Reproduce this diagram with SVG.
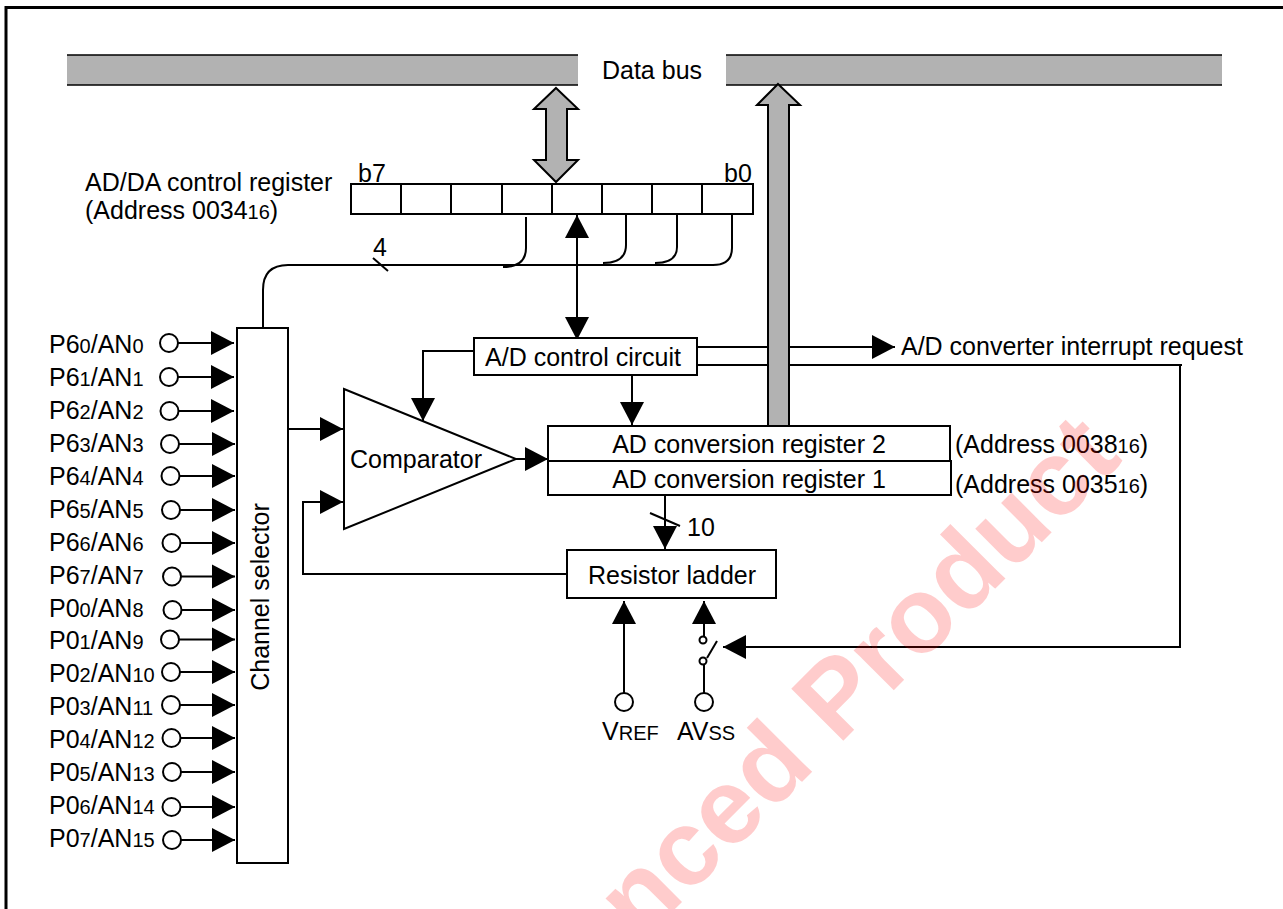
<svg xmlns="http://www.w3.org/2000/svg" width="1283" height="909" viewBox="0 0 1283 909">
<style>
text{font-family:"Liberation Sans",Arial,sans-serif;font-size:25px;fill:#000}
.s{font-size:20px}
.m{text-anchor:middle}
.b{fill:#fff;stroke:#000;stroke-width:2}
.l{fill:none;stroke:#000;stroke-width:2}
.a{fill:none;stroke:#000;stroke-width:2;marker-end:url(#h)}
.c{fill:#fff;stroke:#000;stroke-width:2}
.g{fill:#b2b2b2;stroke:#000;stroke-width:2}
.wm{font-family:"Liberation Sans",Arial,sans-serif;font-weight:bold;font-size:107px;fill:#f00;fill-opacity:.2;text-anchor:end}
</style>
<defs>
<marker id="h" markerUnits="userSpaceOnUse" markerWidth="24" markerHeight="24" refX="23" refY="12" orient="auto-start-reverse" overflow="visible"><path d="M0 0L23 12L0 24Z" fill="#000"/></marker>
</defs>
<rect width="1283" height="909" fill="#fff"/>
<g id="frame"><path d="M1283 7.5H6V909" fill="none" stroke="#000" stroke-width="3"/></g>
<g id="data-bus">
<rect x="67" y="55" width="1155" height="30" fill="#b2b2b2"/>
<path d="M67 55H1222M67 85H1222" fill="none" stroke="#000" stroke-width="1.500"/>
<rect x="578" y="54" width="148" height="32" fill="#fff"/>
<text x="652" y="79" class="m">Data bus</text>
</g>
<g id="connectors">
<path class="l" d="M263 328V290Q263 265 288 265H713Q732 265 732 248V214"/>
<path class="l" d="M526 217V248Q526 267 503 267"/>
<path class="l" d="M626 214V245Q626 263 603 263"/>
<path class="l" d="M677 214V247Q677 263 655 263"/>
<path class="l" d="M373 258L388 271"/>
<path class="a" style="marker-start:url(#h)" d="M577 215V340"/>
<path class="a" d="M474 351H423V421"/>
<path class="a" d="M632 375V425"/>
<path class="a" d="M516 459H548"/>
<path class="a" d="M287 429H343"/>
<path class="a" d="M567 574H303V502H343"/>
<path class="a" d="M665 495V549"/>
<path class="l" d="M650 513L680 526"/>
<path class="a" d="M697 347H895"/>
<path class="l" d="M697 365H1182"/>
<path class="a" d="M1180 365V647H723"/>
<path class="a" d="M624 693V601"/>
<path class="a" d="M704 636V601"/>
<path class="l" d="M704 665V693"/>
<path class="l" d="M707 658L717 641"/>
<path class="a" d="M178 343H234"/><path class="a" d="M178 377H234"/><path class="a" d="M178.500 411H234"/><path class="a" d="M179 444H235"/>
<path class="a" d="M179.500 476H235"/><path class="a" d="M180 510H235"/><path class="a" d="M180.500 543H235"/><path class="a" d="M181 576.500H235"/>
<path class="a" d="M181.500 610H235"/><path class="a" d="M179 639.500H235"/><path class="a" d="M180 672H235"/><path class="a" d="M180 705H235"/>
<path class="a" d="M180.500 738H235"/><path class="a" d="M181 772H235"/><path class="a" d="M180.500 807H235"/><path class="a" d="M181 840H235"/>
</g>
<g id="bus-arrows">
<path class="g" d="M556 88L578 109H567V160H578L556 182L534 160H546V109H534Z"/>
<path class="g" d="M778 84L800 105H789V426H768V105H757Z"/>
</g>
<g id="register-label">
<text x="85" y="191">AD/DA control register</text>
<text x="85" y="219">(Address 0034<tspan class="s">16</tspan>)</text>
</g>
<g id="control-register">
<rect class="b" x="351" y="184" width="402" height="30"/>
<path class="l" d="M401 184V214M451 184V214M502 184V214M552 184V214M602 184V214M652 184V214M702 184V214"/>
<text x="358" y="182">b7</text>
<text x="724" y="182">b0</text>
</g>
<text x="373" y="256">4</text>
<g id="adc-control"><rect class="b" x="474" y="338" width="223" height="37"/><text x="583" y="366" class="m">A/D control circuit</text></g>
<g id="comparator"><path class="b" d="M344 389L516 459L344 529Z"/><text x="350" y="468">Comparator</text></g>
<g id="conversion-registers">
<rect class="b" x="548" y="426" width="402" height="35"/>
<rect class="b" x="548" y="461" width="403" height="34"/>
<text x="749" y="453" class="m">AD conversion register 2</text>
<text x="749" y="488" class="m">AD conversion register 1</text>
<text x="955" y="453">(Address 0038<tspan class="s">16</tspan>)</text>
<text x="955" y="493">(Address 0035<tspan class="s">16</tspan>)</text>
</g>
<text x="687" y="536">10</text>
<g id="resistor-ladder"><rect class="b" x="567" y="550" width="209" height="48"/><text x="672" y="584" class="m">Resistor ladder</text></g>
<g id="vref"><circle class="c" cx="624" cy="702" r="9"/><text x="602" y="740">V<tspan class="s">REF</tspan></text></g>
<g id="avss">
<circle class="c" cx="704" cy="702" r="9"/>
<circle class="c" cx="703" cy="640" r="3.500"/>
<circle class="c" cx="703" cy="661" r="3.500"/>
<text x="677" y="740">AV<tspan class="s">SS</tspan></text>
</g>
<text x="901" y="355">A/D converter interrupt request</text>
<g id="channel-selector"><rect class="b" x="237" y="328" width="51" height="535"/><text transform="translate(269 597) rotate(-90)" class="m">Channel selector</text></g>
<g id="inputs">
<g id="an0"><circle class="c" cx="169" cy="343" r="9"/><text x="49" y="353">P6<tspan class="s">0</tspan>/AN<tspan class="s">0</tspan></text></g>
<g id="an1"><circle class="c" cx="169" cy="377" r="9"/><text x="49" y="386">P6<tspan class="s">1</tspan>/AN<tspan class="s">1</tspan></text></g>
<g id="an2"><circle class="c" cx="169.500" cy="411" r="9"/><text x="49" y="419">P6<tspan class="s">2</tspan>/AN<tspan class="s">2</tspan></text></g>
<g id="an3"><circle class="c" cx="170" cy="444" r="9"/><text x="49" y="452">P6<tspan class="s">3</tspan>/AN<tspan class="s">3</tspan></text></g>
<g id="an4"><circle class="c" cx="170.500" cy="476" r="9"/><text x="49" y="485">P6<tspan class="s">4</tspan>/AN<tspan class="s">4</tspan></text></g>
<g id="an5"><circle class="c" cx="171" cy="510" r="9"/><text x="49" y="518">P6<tspan class="s">5</tspan>/AN<tspan class="s">5</tspan></text></g>
<g id="an6"><circle class="c" cx="171.500" cy="543" r="9"/><text x="49" y="551">P6<tspan class="s">6</tspan>/AN<tspan class="s">6</tspan></text></g>
<g id="an7"><circle class="c" cx="172" cy="576.500" r="9"/><text x="49" y="584">P6<tspan class="s">7</tspan>/AN<tspan class="s">7</tspan></text></g>
<g id="an8"><circle class="c" cx="172.500" cy="610" r="9"/><text x="49" y="617">P0<tspan class="s">0</tspan>/AN<tspan class="s">8</tspan></text></g>
<g id="an9"><circle class="c" cx="170" cy="639.500" r="9"/><text x="49" y="649">P0<tspan class="s">1</tspan>/AN<tspan class="s">9</tspan></text></g>
<g id="an10"><circle class="c" cx="171" cy="672" r="9"/><text x="49" y="682">P0<tspan class="s">2</tspan>/AN<tspan class="s">10</tspan></text></g>
<g id="an11"><circle class="c" cx="171" cy="705" r="9"/><text x="49" y="715">P0<tspan class="s">3</tspan>/AN<tspan class="s">11</tspan></text></g>
<g id="an12"><circle class="c" cx="171.500" cy="738" r="9"/><text x="49" y="748">P0<tspan class="s">4</tspan>/AN<tspan class="s">12</tspan></text></g>
<g id="an13"><circle class="c" cx="172" cy="772" r="9"/><text x="49" y="781">P0<tspan class="s">5</tspan>/AN<tspan class="s">13</tspan></text></g>
<g id="an14"><circle class="c" cx="171.500" cy="807" r="9"/><text x="49" y="814">P0<tspan class="s">6</tspan>/AN<tspan class="s">14</tspan></text></g>
<g id="an15"><circle class="c" cx="172" cy="840" r="9"/><text x="49" y="847">P0<tspan class="s">7</tspan>/AN<tspan class="s">15</tspan></text></g>
</g>
<text class="wm" transform="translate(1124 460) rotate(-45)">nced Product</text>
</svg>
